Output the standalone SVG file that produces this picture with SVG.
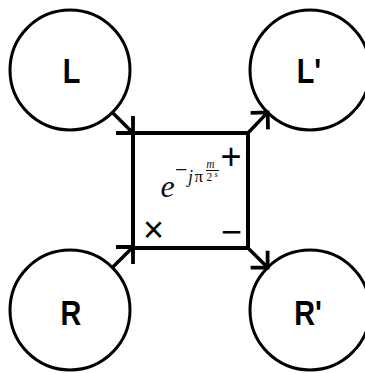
<svg xmlns="http://www.w3.org/2000/svg" width="365" height="373" viewBox="0 0 365 373">
  <style>
    .node circle { fill: #ffffff; stroke: #000000; stroke-width: 3; }
    .lbl { font-family: "Liberation Sans", Arial, sans-serif; font-weight: bold; font-size: 36px; fill: #000000; text-anchor: middle; }
    .box { fill: #ffffff; stroke: #000000; stroke-width: 4; }
    .sym { font-family: "Liberation Sans", Arial, sans-serif; font-size: 36px; fill: #000000; text-anchor: middle; }
    .math { font-family: "Liberation Serif", "Times New Roman", serif; fill: #111111; }
    .conn line { stroke: #000000; stroke-width: 3.5; fill: none; }
  </style>
  <defs>
    <marker id="arrow" markerUnits="userSpaceOnUse" markerWidth="30" markerHeight="30" viewBox="-16 -15 20 30" refX="0" refY="0" orient="auto" overflow="visible">
      <path d="M -12 -12 L 0 0 L -12 12" fill="none" stroke="#000000" stroke-width="3.8" stroke-linejoin="miter"/>
    </marker>
  </defs>
  <rect width="365" height="373" fill="#ffffff"/>

  <g id="L" class="node">
    <circle cx="70" cy="70" r="60"/>
    <text class="lbl" transform="translate(71.5 83) scale(0.8 1)">L</text>
  </g>
  <g id="Lp" class="node">
    <circle cx="310" cy="70" r="60"/>
    <text class="lbl" transform="translate(309 83) scale(0.8 1)">L'</text>
  </g>
  <g id="R" class="node">
    <circle cx="70" cy="310" r="60"/>
    <text class="lbl" transform="translate(71 325) scale(0.8 1)">R</text>
  </g>
  <g id="Rp" class="node">
    <circle cx="310" cy="310" r="60"/>
    <text class="lbl" transform="translate(308 325) scale(0.8 1)">R'</text>
  </g>

  <g id="butterfly">
    <rect class="box" x="133" y="133" width="115" height="115"/>
    <text class="sym" x="231" y="169">+</text>
    <text class="sym" x="231.5" y="244">−</text>
    <text class="sym" x="153.5" y="242" font-size="34">×</text>
    <text class="math" x="160.5" y="197" font-size="32" font-style="italic">e</text>
    <text class="math" x="175" y="177" font-size="22">−</text>
    <text class="math" x="188" y="183" font-size="18" font-style="italic">j</text>
    <text class="math" x="194.5" y="182" font-size="17">π</text>
    <text class="math" x="210.5" y="168" font-size="11.5" font-style="italic" text-anchor="middle">m</text>
    <line x1="206" y1="170.5" x2="219" y2="170.5" stroke="#111111" stroke-width="1"/>
    <text class="math" x="206.5" y="181" font-size="11.5">2</text>
    <text class="math" x="214.5" y="177" font-size="8.5" font-style="italic">s</text>
  </g>

  <g id="connectors" class="conn">
    <line x1="112.4" y1="112.4" x2="133" y2="133" marker-end="url(#arrow)"/>
    <line x1="248" y1="133" x2="267.6" y2="112.4" marker-end="url(#arrow)"/>
    <line x1="112.4" y1="267.6" x2="133" y2="247" marker-end="url(#arrow)"/>
    <line x1="248" y1="248" x2="267.6" y2="267.6" marker-end="url(#arrow)"/>
  </g>
</svg>
